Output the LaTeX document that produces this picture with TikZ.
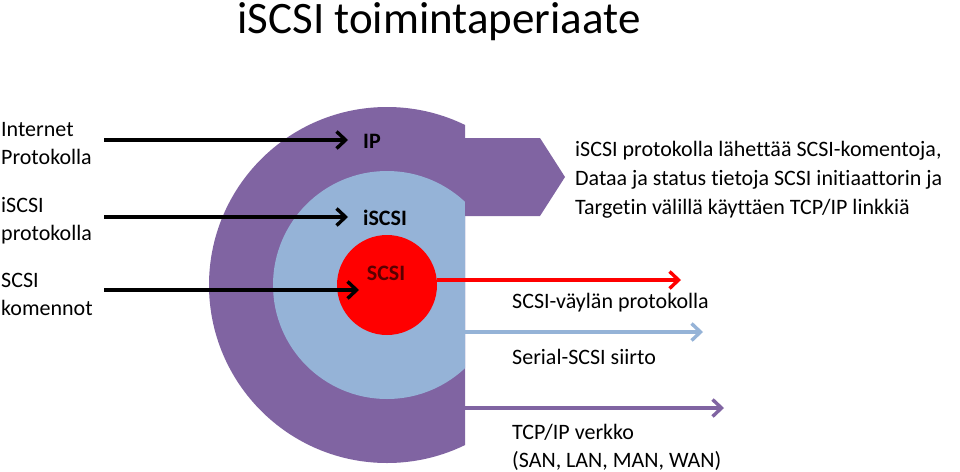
\documentclass[tikz,border=0pt]{standalone}
\usepackage{fontspec}
\setmainfont{Carlito}[Ligatures={NoCommon,NoContextual}]
\usetikzlibrary{arrows.meta}
\definecolor{purp}{RGB}{128,100,162}
\definecolor{lblue}{RGB}{149,179,215}
\definecolor{dred}{RGB}{90,0,0}
\tikzset{
  txt/.style={font=\fontsize{22}{28}\selectfont, inner sep=0pt, align=left},
  lbl/.style={font=\fontsize{22}{26}\selectfont\bfseries, inner sep=0pt},
  chev/.style={-{Straight Barb[length=9pt,width=17pt,line width=3.4pt]}, line width=3.6pt},
}
\begin{document}
\begin{tikzpicture}[x=1pt,y=-1pt]
\useasboundingbox (0,0) rectangle (960,471);
% title
\node[font=\fontsize{45}{50}\selectfont, inner sep=0pt, anchor=base] (title) at (439,33) {iSCSI toimintaperiaate};
% rings
\begin{scope}
\clip (0,0) rectangle (465,471);
\fill[purp] (387,285) circle (178);
\fill[lblue] (387,285) circle (114);
\end{scope}
\fill[purp] (465,138) -- (540,138) -- (565,177) -- (540,216) -- (465,216) -- cycle;
\node[circle, fill=red, minimum size=100pt, inner sep=0pt] (core) at (387,285) {};
% inner labels
\node[lbl] (ip) at (372,141) {IP};
\node[lbl] (isc) at (385,218) {iSCSI};
\node[lbl, text=dred] (scsi) at (386,273) {SCSI};
% left labels
\node[txt, anchor=west] (l1) at (1,144) {Internet\\Protokolla};
\node[txt, anchor=west] (l2) at (1,221) {iSCSI\\protokolla};
\node[txt, anchor=west] (l3) at (1,294) {SCSI\\komennot};
% left arrows
\coordinate (s1) at (104,140); \coordinate (e1) at (348,140);
\coordinate (s2) at (104,217); \coordinate (e2) at (348,217);
\coordinate (s3) at (104,290); \coordinate (e3) at (359,290);
\draw[chev] (s1) -- (e1);
\draw[chev] (s2) -- (e2);
\draw[chev] (s3) -- (e3);
% right description
\node[txt, anchor=west, font=\fontsize{22}{29}\selectfont] (desc) at (575,180) {iSCSI protokolla lähettää SCSI-komentoja,\\Dataa ja status tietoja SCSI initiaattorin ja\\Targetin välillä käyttäen TCP/IP linkkiä};
% right arrows
\coordinate (r1s) at (437,280); \coordinate (r1e) at (681,280);
\coordinate (r2s) at (465,332); \coordinate (r2e) at (703,332);
\coordinate (r3s) at (465,408); \coordinate (r3e) at (724,408);
\draw[chev, red] (r1s) -- (r1e);
\draw[chev, lblue] (r2s) -- (r2e);
\draw[chev, purp] (r3s) -- (r3e);
% bottom labels
\node[txt, anchor=west] (b1) at (512,303) {SCSI-väylän protokolla};
\node[txt, anchor=west] (b2) at (512,357) {Serial-SCSI siirto};
\node[txt, anchor=west] (b3) at (512,447) {TCP/IP verkko\\(SAN, LAN, MAN, WAN)};
\end{tikzpicture}
\end{document}
